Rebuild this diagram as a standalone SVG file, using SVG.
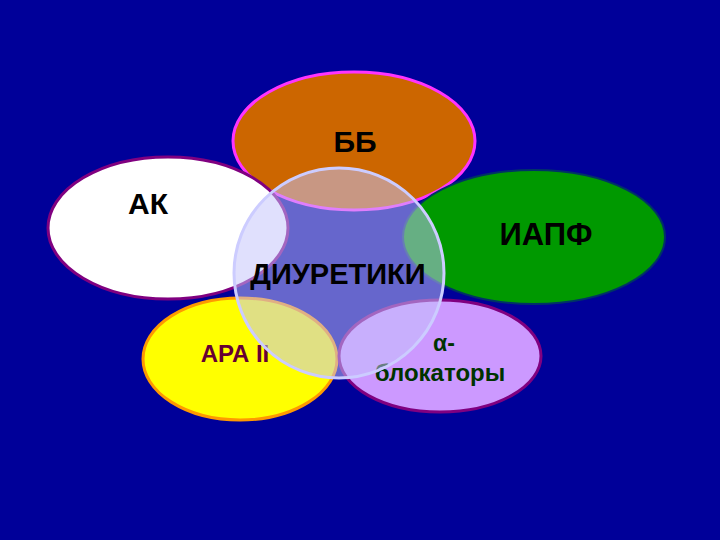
<svg xmlns="http://www.w3.org/2000/svg" width="720" height="540" viewBox="0 0 720 540">
<style>
.lbl{font-family:"Liberation Sans",Arial,sans-serif;font-weight:bold;text-anchor:middle}
.ell{stroke-width:3}
</style>
<rect width="720" height="540" fill="#000099"/>
<g id="node-bb">
<ellipse class="ell" cx="354" cy="141" rx="121" ry="69" fill="#cc6600" stroke="#ff33ff"/>
<text class="lbl" x="355" y="152" font-size="30" fill="#000">ББ</text>
</g>
<g id="node-ak">
<ellipse class="ell" cx="168" cy="228" rx="120" ry="71" fill="#ffffff" stroke="#800080"/>
<text class="lbl" x="148" y="214" font-size="30" fill="#000">АК</text>
</g>
<g id="node-iapf">
<ellipse cx="534" cy="237" rx="131" ry="67" fill="#009900" stroke="#003366" stroke-width="2"/>
<text class="lbl" x="546" y="245" font-size="31" fill="#000">ИАПФ</text>
</g>
<g id="node-ara">
<ellipse class="ell" cx="240" cy="359" rx="97" ry="61" fill="#ffff00" stroke="#ff9900"/>
<text class="lbl" x="235" y="362" font-size="24" fill="#660033">АРА II</text>
</g>
<g id="node-alpha">
<ellipse class="ell" cx="440" cy="356" rx="101" ry="56" fill="#cc99ff" stroke="#800080"/>
<text class="lbl" x="444" y="351" font-size="23" fill="#003300">α-</text>
<text class="lbl" x="440" y="381" font-size="24" fill="#003300">блокаторы</text>
</g>
<g id="node-diuretics">
<circle cx="339" cy="273" r="105" fill="#c4c4fb" fill-opacity="0.52" stroke="#ccccff" stroke-width="3"/>
<text class="lbl" x="338" y="284" font-size="29" fill="#000">ДИУРЕТИКИ</text>
</g>
<g id="connectors"/>
</svg>
